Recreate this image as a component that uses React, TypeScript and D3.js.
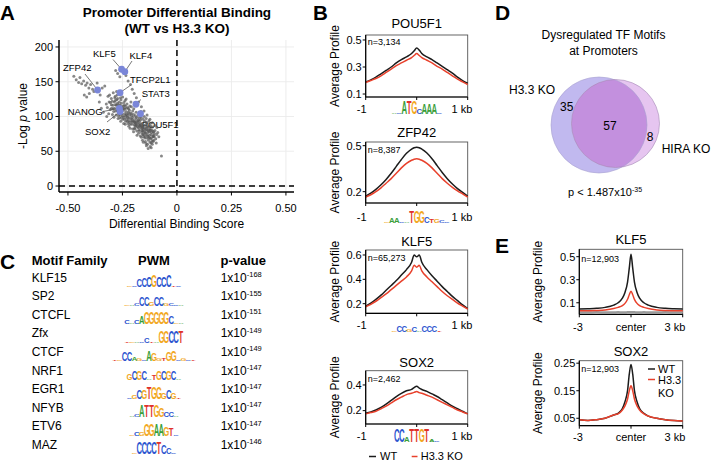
import React from 'react';
import * as d3 from 'd3';

const FONT = "'Liberation Sans', Arial, Helvetica, sans-serif";
const BLACK = '#1c1c1c';
const RED = '#e8412c';
const BLUE_PT = '#7a86d8';
const BASE_COLORS: Record<string, string> = { A: '#3a9e3a', C: '#2c55cf', G: '#f2a81e', T: '#e0312a' };

// ---------------- Panel A data ----------------
const scatterPoints: [number, number][] = [
  // upper-left tail
  [-0.473,158],[-0.462,153],[-0.451,149],[-0.445,156],[-0.437,147],[-0.428,151],[-0.419,145],[-0.412,148],[-0.404,141],[-0.396,146],[-0.387,139],[-0.425,131],[-0.414,128],[-0.402,133],[-0.381,136],[-0.366,148],[-0.356,121],[-0.352,131],[-0.347,112],[-0.343,141],[-0.338,106],[-0.331,144],[-0.322,100],
  // main cloud
  [-0.287,121],[-0.263,112],[-0.241,96],[-0.218,109],[-0.196,88],[-0.173,93],[-0.152,71],[-0.131,79],[-0.208,101],[-0.229,118],
  [-0.251,104],[-0.274,131],[-0.189,97],[-0.166,84],[-0.143,88],[-0.121,68],[-0.203,82],[-0.238,123],[-0.259,127],[-0.281,108],
  [-0.301,117],[-0.316,129],[-0.226,99],[-0.212,93],[-0.184,79],[-0.159,90],[-0.137,73],[-0.116,77],[-0.198,111],[-0.221,86],
  [-0.247,115],[-0.268,101],[-0.292,134],[-0.178,102],[-0.162,77],[-0.148,83],[-0.127,86],[-0.109,71],[-0.234,107],[-0.256,119],
  [-0.278,116],[-0.296,103],[-0.311,121],[-0.193,91],[-0.171,87],[-0.155,96],[-0.139,81],[-0.118,62],[-0.216,115],[-0.244,90],
  [-0.262,98],[-0.285,127],[-0.205,96],[-0.187,106],[-0.168,72],[-0.146,76],[-0.129,69],[-0.104,76],[-0.225,104],[-0.249,128],
  [-0.271,113],[-0.293,111],[-0.324,118],[-0.181,85],[-0.164,99],[-0.142,92],[-0.124,82],[-0.112,85],[-0.211,121],[-0.236,101],
  [-0.255,110],[-0.276,124],[-0.199,78],[-0.177,95],[-0.158,66],[-0.135,60],[-0.119,74],[-0.097,68],[-0.228,93],[-0.241,116],
  [-0.265,121],[-0.289,99],[-0.306,110],[-0.191,101],[-0.174,81],[-0.151,87],[-0.133,77],[-0.114,65],[-0.219,98],[-0.232,112],
  [-0.258,93],[-0.282,117],[-0.301,126],[-0.186,92],[-0.169,90],[-0.147,69],[-0.126,73],[-0.101,80],[-0.207,89],[-0.246,109],
  [-0.269,107],[-0.297,122],[-0.183,73],[-0.161,82],[-0.141,97],[-0.122,90],[-0.093,74],[-0.214,105],[-0.231,97],[-0.253,99],
  [-0.273,119],[-0.319,113],[-0.195,83],[-0.176,76],[-0.156,79],[-0.138,86],[-0.117,81],[-0.215,83],[-0.239,104],[-0.261,116],
  [-0.283,129],[-0.188,87],[-0.167,95],[-0.145,64],[-0.128,94],[-0.108,78],[-0.222,111],[-0.243,120],[-0.267,104],[-0.294,116],
  [-0.179,91],[-0.157,74],[-0.134,85],[-0.123,57],[-0.201,94],[-0.224,90],[-0.252,113],[-0.277,136],[-0.171,104],[-0.149,93],
  [-0.131,66],[-0.111,72],[-0.203,108],[-0.233,125],[-0.257,124],[-0.286,112],[-0.309,131],[-0.192,82],[-0.163,70],[-0.144,80],
  [-0.125,78],[-0.217,102],[-0.237,89],[-0.264,133],[-0.279,102],[-0.185,99],[-0.160,86],[-0.140,58],[-0.120,86],[-0.197,92],
  [-0.223,95],[-0.248,101],[-0.272,126],[-0.313,104],[-0.175,88],[-0.153,82],[-0.136,91],[-0.113,60],[-0.209,114],[-0.235,93],
  [-0.132,54],[-0.142,61],[-0.106,66],[-0.088,77],[-0.083,71],[-0.154,63],
  [-0.262,106],[-0.245,112],[-0.228,101],[-0.211,97],[-0.194,94],[-0.177,84],[-0.160,80],[-0.143,76],[-0.126,70],[-0.109,64],
  [-0.270,117],[-0.253,108],[-0.236,115],[-0.219,92],[-0.202,99],[-0.185,88],[-0.168,86],[-0.151,78],[-0.134,72],[-0.117,69],
  [-0.259,102],[-0.242,99],[-0.225,113],[-0.208,104],[-0.191,86],[-0.174,98],[-0.157,84],[-0.140,83],[-0.123,63],[-0.106,73],
  [-0.283,123],[-0.266,115],[-0.249,96],[-0.232,103],[-0.215,89],[-0.198,103],[-0.181,94],[-0.164,88],[-0.147,72],[-0.130,81],
  [-0.290,107],[-0.274,109],[-0.257,114],[-0.240,111],[-0.223,106],[-0.206,92],[-0.189,90],[-0.172,79],[-0.155,74],[-0.138,69],
  [-0.121,80],[-0.104,71],[-0.305,120],[-0.300,112],[-0.270,97],[-0.165,107],[-0.150,100],[-0.110,79],[-0.095,62],[-0.118,55],
  // stragglers
  [-0.272,162],[-0.262,157],[-0.234,159],[-0.224,151],[-0.213,146],[-0.243,163],[-0.281,166],[-0.205,139],[-0.196,133],[-0.186,127],[-0.176,121],[-0.163,114],[-0.151,108],[-0.137,102],[-0.124,96],[-0.113,91],[-0.101,87],[-0.092,84],
  [-0.071,43],
];
const tfNames = ['KLF5', 'KLF4', 'ZFP42', 'TFCP2L1', 'STAT3', 'NANOG', 'SOX2', 'POU5F1'];
const tfScore = [-0.254, -0.239, -0.364, -0.261, -0.188, -0.264, -0.261, -0.167];
const tfLogP = [167.9, 164.4, 138.1, 134.3, 117.6, 111.8, 107.0, 103.9];
const xTicksA = [-0.5, -0.25, 0, 0.25, 0.5];
const xTickLabelsA = ['-0.50', '-0.25', '0', '0.25', '0.50'];
const yTicksA = [0, 50, 100, 150, 200];

// label layout (pixel anchors for text and leader line start)
const tfLabelLayout: Record<string, { tx: number; ty: number; lx: number; ly: number }> = {
  KLF5: { tx: 93, ty: 57, lx: 113, ly: 59.5 },
  KLF4: { tx: 129.5, ty: 59, lx: 132, ly: 61 },
  ZFP42: { tx: 63, ty: 71, lx: 85, ly: 74 },
  TFCP2L1: { tx: 130, ty: 83, lx: 131, ly: 85 },
  STAT3: { tx: 141.7, ty: 97.3, lx: 141, ly: 99.5 },
  NANOG: { tx: 67.7, ty: 115, lx: 103, ly: 111.5 },
  SOX2: { tx: 85, ty: 135, lx: 107, ly: 122 },
  POU5F1: { tx: 141.7, ty: 128.3, lx: 141, ly: 119.5 },
};

// ---------------- Panel B data ----------------
const profileXB = [-1,-0.9,-0.8,-0.7,-0.6,-0.5,-0.4,-0.3,-0.2,-0.1,-0.05,0,0.05,0.1,0.2,0.3,0.4,0.5,0.6,0.7,0.8,0.9,1];
const pou5f1WT = [0.19,0.205,0.225,0.25,0.275,0.30,0.33,0.355,0.375,0.40,0.42,0.44,0.425,0.40,0.375,0.355,0.33,0.305,0.28,0.255,0.225,0.20,0.18];
const pou5f1KO = [0.185,0.20,0.215,0.235,0.26,0.285,0.31,0.33,0.35,0.37,0.385,0.40,0.385,0.37,0.35,0.33,0.305,0.285,0.26,0.235,0.21,0.19,0.17];
const zfp42WT = [0.17,0.19,0.215,0.245,0.28,0.32,0.365,0.41,0.45,0.478,0.487,0.49,0.487,0.478,0.452,0.415,0.37,0.325,0.285,0.25,0.22,0.195,0.17];
const zfp42KO = [0.165,0.18,0.2,0.225,0.255,0.285,0.32,0.355,0.385,0.405,0.412,0.415,0.412,0.405,0.385,0.355,0.32,0.285,0.255,0.228,0.205,0.185,0.165];
const klf5WT = [0.18,0.205,0.235,0.27,0.31,0.35,0.39,0.435,0.48,0.54,0.60,0.585,0.60,0.54,0.48,0.43,0.385,0.34,0.30,0.26,0.225,0.19,0.16];
const klf5KO = [0.175,0.195,0.22,0.25,0.28,0.315,0.35,0.385,0.42,0.47,0.515,0.50,0.515,0.47,0.42,0.38,0.34,0.30,0.265,0.235,0.205,0.18,0.155];
const sox2WT = [0.18,0.19,0.205,0.225,0.25,0.28,0.31,0.335,0.355,0.365,0.38,0.39,0.375,0.365,0.35,0.33,0.31,0.285,0.26,0.235,0.215,0.195,0.175];
const sox2KO = [0.175,0.185,0.195,0.215,0.235,0.26,0.285,0.305,0.325,0.335,0.342,0.35,0.34,0.335,0.32,0.305,0.285,0.265,0.245,0.225,0.205,0.19,0.175];
const bTitles = ['POU5F1', 'ZFP42', 'KLF5', 'SOX2'];
const bCounts = ['n=3,134', 'n=8,387', 'n=65,273', 'n=2,462'];
const bTicks = [[0.1, 0.3, 0.5], [0.2, 0.5], [0.2, 0.4, 0.6], [0.2, 0.4]];
const bLogoLetters = ['acATGCAAAc', 'gAAcATGGCTGCc', 'gCCgCaCCCt', 'CCATTGTAc'];
const bLogoHeights = ['1199937771', '1441199953321', '1552415551', '993999921'];

// ---------------- Panel C data ----------------
const motifFamilies = ['KLF15', 'SP2', 'CTCFL', 'Zfx', 'CTCF', 'NRF1', 'EGR1', 'NFYB', 'ETV6', 'MAZ'];
const motifPExp = ['-168', '-155', '-151', '-149', '-149', '-147', '-147', '-147', '-147', '-146'];
const motifLetters = ['gcCCCGCCCtc', 'gacCCgCCgcca', 'cacAGGGGGCga', 'tgacCtaGGCCT', 'tgCCAgcAGgtGGCgct', 'GCGCatGCGCa', 'cgCGTGGGcGt', 'acATTGGcca', 'gcgGGAAGTc', 'gCCCCTCCc'];
const motifHeights = ['11678988911', '112773772211', '313699999611', '111141199999', '11773218622781211', '57771477771', '13779995751', '1299997441', '1339999761', '199999751'];

// ---------------- Panel D data ----------------
const vennCounts = [35, 57, 8];
const vennSets = ['H3.3 KO', 'HIRA KO'];

// ---------------- Panel E data ----------------
const profileXE = [-3,-2.5,-2,-1.5,-1,-0.75,-0.5,-0.35,-0.2,-0.1,0,0.1,0.2,0.35,0.5,0.75,1,1.5,2,2.5,3];
const eKlf5WT = [0.045,0.048,0.052,0.06,0.08,0.10,0.14,0.19,0.28,0.40,0.52,0.40,0.28,0.19,0.14,0.10,0.08,0.06,0.052,0.048,0.045];
const eKlf5KO = [0.03,0.03,0.033,0.038,0.05,0.06,0.075,0.095,0.13,0.17,0.20,0.17,0.13,0.095,0.075,0.06,0.05,0.038,0.033,0.03,0.03];
const eKlf5Input = [0.018,0.018,0.019,0.018,0.018,0.019,0.018,0.018,0.019,0.019,0.02,0.019,0.019,0.018,0.018,0.019,0.018,0.018,0.019,0.018,0.018];
const eSox2WT = [0.045,0.042,0.045,0.05,0.062,0.068,0.085,0.11,0.15,0.21,0.245,0.21,0.15,0.11,0.085,0.068,0.058,0.05,0.045,0.042,0.04];
const eSox2KO = [0.045,0.042,0.045,0.05,0.062,0.066,0.08,0.095,0.12,0.15,0.168,0.15,0.12,0.095,0.08,0.066,0.058,0.05,0.045,0.042,0.04];
const eTitles = ['KLF5', 'SOX2'];
const eCounts = ['n=12,903', 'n=12,903'];
const eTicks = [[0.1, 0.3, 0.5], [0.05, 0.15, 0.25]];
const eTickLabels = [['0.1', '0.3', '0.5'], ['0.05', '0.15', '0.25']];

// ---------------- helpers ----------------
function Logo({ letters, heights, cx, base, maxH, w }: any) {
  const n = letters.length;
  const start = cx - (n * w) / 2;
  return (
    <g>
      {letters.split('').map((ch: string, i: number) => {
        const h = Math.max(1, (+heights[i] / 9) * maxH);
        const L = ch.toUpperCase();
        const px = start + (i + 0.5) * w;
        return (
          <text key={i} transform={`translate(${px},${base}) scale(${w / 6.4},${h / 6.9})`} textAnchor="middle" fontSize={10} fontWeight="bold" fill={BASE_COLORS[L]}>
            {L}
          </text>
        );
      })}
    </g>
  );
}

function ProfilePlot(p: any) {
  const x = d3.scaleLinear().domain(p.xDomain).range([p.x0, p.x1]);
  const y = d3.scaleLinear().domain(p.yDomain).range([p.bot, p.top]);
  const line = d3.line<number>().x((_, i) => x(p.xs[i])).y((d) => y(d)).curve(d3.curveMonotoneX);
  const cx = (p.x0 + p.x1) / 2;
  return (
    <g>
      <text x={cx} y={p.titleY} textAnchor="middle" fontSize={13}>{p.title}</text>
      <rect x={p.x0} y={p.top} width={p.x1 - p.x0} height={p.bot - p.top} fill="none" stroke="#555" strokeWidth={0.9} />
      {p.extra && <path d={line(p.extra) || ''} fill="none" stroke="#999" strokeWidth={2} />}
      <path d={line(p.wt) || ''} fill="none" stroke={BLACK} strokeWidth={1.5} />
      <path d={line(p.ko) || ''} fill="none" stroke={RED} strokeWidth={1.5} />
      <line x1={p.x0} x2={p.x0} y1={p.top} y2={p.bot} stroke="#000" strokeWidth={1.2} />
      <line x1={p.x0} x2={p.x1} y1={p.bot} y2={p.bot} stroke="#000" strokeWidth={1.2} />
      {p.yTicks.map((t: number, i: number) => (
        <g key={i}>
          <line x1={p.x0 - 3} x2={p.x0} y1={y(t)} y2={y(t)} stroke="#000" strokeWidth={1} />
          <text x={p.x0 - 4} y={y(t)} dy="0.35em" textAnchor="end" fontSize={11}>{p.yTickLabels ? p.yTickLabels[i] : String(t)}</text>
        </g>
      ))}
      {p.xTickVals.map((t: number, i: number) => (
        <line key={i} x1={x(t)} x2={x(t)} y1={p.bot} y2={p.bot + 3} stroke="#000" strokeWidth={1} />
      ))}
      {p.xLabels.map((l: any, i: number) => (
        <text key={i} x={x(l.v) + l.dx} y={p.xLabelY} textAnchor="middle" fontSize={11}>{l.text}</text>
      ))}
      <text x={p.x0 + 2} y={p.nY} fontSize={9}>{p.n}</text>
      <text transform={`translate(${p.yLabelX},${(p.top + p.bot) / 2}) rotate(-90)`} textAnchor="middle" fontSize={12}>Average Profile</text>
    </g>
  );
}

// ---------------- panels ----------------
function PanelA() {
  const x = d3.scaleLinear().domain([-0.541, 0.537]).range([59, 294]);
  const y = d3.scaleLinear().domain([-8.6, 210]).range([192, 40]);
  const [xl, xr] = x.range();
  const [yb, yt] = y.range();
  return (
    <g>
      <text x={0} y={19.5} fontSize={20.5} fontWeight="bold">A</text>
      <text x={177} y={17} textAnchor="middle" fontSize={13.5} fontWeight="bold">Promoter Differential Binding</text>
      <text x={177} y={33} textAnchor="middle" fontSize={13.5} fontWeight="bold">(WT vs H3.3 KO)</text>
      {xTicksA.map((t) => <line key={'gx' + t} x1={x(t)} x2={x(t)} y1={yt} y2={yb} stroke="#ebebeb" strokeWidth={0.9} />)}
      {yTicksA.map((t) => <line key={'gy' + t} x1={xl} x2={xr} y1={y(t)} y2={y(t)} stroke="#ebebeb" strokeWidth={0.9} />)}
      <line x1={x(0)} x2={x(0)} y1={yt} y2={yb} stroke="#000" strokeWidth={1.5} strokeDasharray="6,4" />
      <line x1={xl} x2={xr} y1={y(0)} y2={y(0)} stroke="#000" strokeWidth={1.5} strokeDasharray="6,4" />
      {tfNames.map((n, i) => {
        const L = tfLabelLayout[n];
        return (
          <g key={n}>
            <line x1={L.lx} y1={L.ly} x2={x(tfScore[i])} y2={y(tfLogP[i])} stroke="#555" strokeWidth={0.8} />
            <text x={L.tx} y={L.ty} fontSize={9.5}>{n}</text>
          </g>
        );
      })}
      {scatterPoints.map((d, i) => <circle key={i} cx={x(d[0])} cy={y(d[1])} r={1.5} fill="#555" fillOpacity={0.7} />)}
      {tfNames.map((n, i) => <circle key={'b' + n} cx={x(tfScore[i])} cy={y(tfLogP[i])} r={3.4} fill={BLUE_PT} />)}
      <line x1={xl} x2={xl} y1={yt} y2={yb} stroke="#000" strokeWidth={1.5} />
      <line x1={xl} x2={xr} y1={yb} y2={yb} stroke="#000" strokeWidth={1.5} />
      {yTicksA.map((t) => (
        <g key={'yt' + t}>
          <line x1={xl - 3.5} x2={xl} y1={y(t)} y2={y(t)} stroke="#000" strokeWidth={1} />
          <text x={xl - 6} y={y(t)} dy="0.35em" textAnchor="end" fontSize={11}>{t}</text>
        </g>
      ))}
      {xTicksA.map((t, i) => (
        <g key={'xt' + t}>
          <line x1={x(t)} x2={x(t)} y1={yb} y2={yb + 3.5} stroke="#000" strokeWidth={1} />
          <text x={x(t)} y={211.5} textAnchor="middle" fontSize={11}>{xTickLabelsA[i]}</text>
        </g>
      ))}
      <text x={(xl + xr) / 2} y={227.5} textAnchor="middle" fontSize={12}>Differential Binding Score</text>
      <text transform={`translate(27,${(yt + yb) / 2}) rotate(-90)`} textAnchor="middle" fontSize={12}>
        -Log <tspan fontStyle="italic">p</tspan> value
      </text>
    </g>
  );
}

const bLayout = [
  { titleY: 27.5, top: 35, bot: 97, dom: [0.078, 0.537], nY: 45, labelY: 112.5, logoY: 113.5, logoH: 13 },
  { titleY: 137, top: 142, bot: 203, dom: [0.126, 0.524], nY: 152.5, labelY: 220.5, logoY: 222.7, logoH: 12 },
  { titleY: 245.5, top: 250, bot: 313.3, dom: [0.121, 0.641], nY: 260.5, labelY: 329, logoY: 331.7, logoH: 11 },
  { titleY: 366.5, top: 370.7, bot: 424, dom: [0.096, 0.511], nY: 382, labelY: 440, logoY: 442, logoH: 13 },
];
const bSeries = [[pou5f1WT, pou5f1KO], [zfp42WT, zfp42KO], [klf5WT, klf5KO], [sox2WT, sox2KO]];

function PanelB() {
  const x0 = 365.7, x1 = 467.7;
  return (
    <g>
      <text x={313} y={19.5} fontSize={20.5} fontWeight="bold">B</text>
      {bLayout.map((L, i) => (
        <g key={i}>
          <ProfilePlot
            x0={x0} x1={x1} top={L.top} bot={L.bot} xDomain={[-1, 1]} yDomain={L.dom}
            yTicks={bTicks[i]} xs={profileXB} wt={bSeries[i][0]} ko={bSeries[i][1]}
            title={bTitles[i]} titleY={L.titleY} n={bCounts[i]} nY={L.nY}
            xTickVals={[-1, 0, 1]} xLabels={[{ v: -1, text: '-1', dx: -4 }, { v: 1, text: '1 kb', dx: -5.7 }]}
            xLabelY={L.labelY} yLabelX={338.5}
          />
          <Logo letters={bLogoLetters[i]} heights={bLogoHeights[i]} cx={(x0 + x1) / 2} base={L.logoY} maxH={L.logoH} w={5} />
        </g>
      ))}
      <line x1={369} x2={376} y1={456.5} y2={456.5} stroke={BLACK} strokeWidth={1.5} />
      <text x={380} y={460} fontSize={11}>WT</text>
      <line x1={411.7} x2={417.5} y1={456.5} y2={456.5} stroke={RED} strokeWidth={1.5} />
      <text x={420.7} y={460} fontSize={11}>H3.3 KO</text>
    </g>
  );
}

function PanelC() {
  const headerY = 265, rowY0 = 281.5, step = 18.6;
  return (
    <g>
      <text x={0} y={269} fontSize={21} fontWeight="bold">C</text>
      <text x={31.7} y={headerY} fontSize={13} fontWeight="bold">Motif Family</text>
      <text x={154} y={headerY} fontSize={13} fontWeight="bold" textAnchor="middle">PWM</text>
      <text x={220.5} y={headerY} fontSize={13} fontWeight="bold">p-value</text>
      {motifFamilies.map((m, i) => {
        const yy = rowY0 + i * step;
        return (
          <g key={m}>
            <text x={31.7} y={yy} fontSize={12}>{m}</text>
            <Logo letters={motifLetters[i]} heights={motifHeights[i]} cx={154} base={yy + 5.5} maxH={12} w={4.9} />
            <text x={220.7} y={yy} fontSize={12}>
              1x10<tspan dy={-4.5} fontSize={7.5}>{motifPExp[i]}</tspan>
            </text>
          </g>
        );
      })}
    </g>
  );
}

function PanelD() {
  const c1 = { x: 599, y: 125, r: 48 };
  const c2 = { x: 615.5, y: 123.5, r: 44 };
  return (
    <g>
      <text x={495} y={20} fontSize={21} fontWeight="bold">D</text>
      <text x={603.5} y={39} textAnchor="middle" fontSize={12}>Dysregulated TF Motifs</text>
      <text x={603.5} y={55} textAnchor="middle" fontSize={12}>at Promoters</text>
      <defs>
        <clipPath id="vennClip"><circle cx={c1.x} cy={c1.y} r={c1.r} /></clipPath>
      </defs>
      <circle cx={c1.x} cy={c1.y} r={c1.r} fill="#c1b9ef" />
      <circle cx={c2.x} cy={c2.y} r={c2.r} fill="#e6c5f0" />
      <circle cx={c2.x} cy={c2.y} r={c2.r} fill="#c390de" clipPath="url(#vennClip)" />
      <circle cx={c1.x} cy={c1.y} r={c1.r} fill="none" stroke="#a7a1d0" strokeWidth={0.6} />
      <circle cx={c2.x} cy={c2.y} r={c2.r} fill="none" stroke="#a58ab5" strokeWidth={0.6} />
      <text x={566.7} y={111} textAnchor="middle" fontSize={12}>{vennCounts[0]}</text>
      <text x={610} y={130} textAnchor="middle" fontSize={12}>{vennCounts[1]}</text>
      <text x={650} y={141} textAnchor="middle" fontSize={12}>{vennCounts[2]}</text>
      <text x={555} y={93.5} textAnchor="end" fontSize={12}>{vennSets[0]}</text>
      <text x={661.7} y={153} fontSize={12}>{vennSets[1]}</text>
      <text x={568} y={196} fontSize={11}>
        p &lt; 1.487x10<tspan dy={-4} fontSize={7}>-35</tspan>
      </text>
    </g>
  );
}

const eLayout = [
  { titleY: 244, top: 249.3, bot: 314.3, dom: [0, 0.564], nY: 261.5, labelY: 331 },
  { titleY: 356, top: 360.7, bot: 425.7, dom: [0.023, 0.259], nY: 372, labelY: 441 },
];
const eSeries = [[eKlf5WT, eKlf5KO, eKlf5Input], [eSox2WT, eSox2KO, null]];

function PanelE() {
  const x0 = 579.3, x1 = 682.7;
  return (
    <g>
      <text x={495} y={253} fontSize={21} fontWeight="bold">E</text>
      {eLayout.map((L, i) => (
        <ProfilePlot
          key={i}
          x0={x0} x1={x1} top={L.top} bot={L.bot} xDomain={[-3, 3]} yDomain={L.dom}
          yTicks={eTicks[i]} yTickLabels={eTickLabels[i]} xs={profileXE}
          wt={eSeries[i][0]} ko={eSeries[i][1]} extra={eSeries[i][2]}
          title={eTitles[i]} titleY={L.titleY} n={eCounts[i]} nY={L.nY}
          xTickVals={[-3, 0, 3]}
          xLabels={[{ v: -3, text: '-3', dx: -1.3 }, { v: 0, text: 'center', dx: 0 }, { v: 3, text: '3 kb', dx: -7.7 }]}
          xLabelY={L.labelY} yLabelX={542}
        />
      ))}
      <line x1={648} x2={655} y1={369} y2={369} stroke={BLACK} strokeWidth={1.5} />
      <text x={658} y={373} fontSize={11}>WT</text>
      <line x1={648} x2={655} y1={379.5} y2={379.5} stroke={RED} strokeWidth={1.5} />
      <text x={658} y={383.5} fontSize={11}>H3.3</text>
      <text x={658} y={397} fontSize={11}>KO</text>
    </g>
  );
}

export default function App() {
  return (
    <svg width={711} height={462} style={{ position: 'absolute', left: 0, top: 0, background: '#fff' }} fontFamily={FONT}>
      <rect width={711} height={462} fill="#fff" />
      <PanelA />
      <PanelB />
      <PanelC />
      <PanelD />
      <PanelE />
    </svg>
  );
}
